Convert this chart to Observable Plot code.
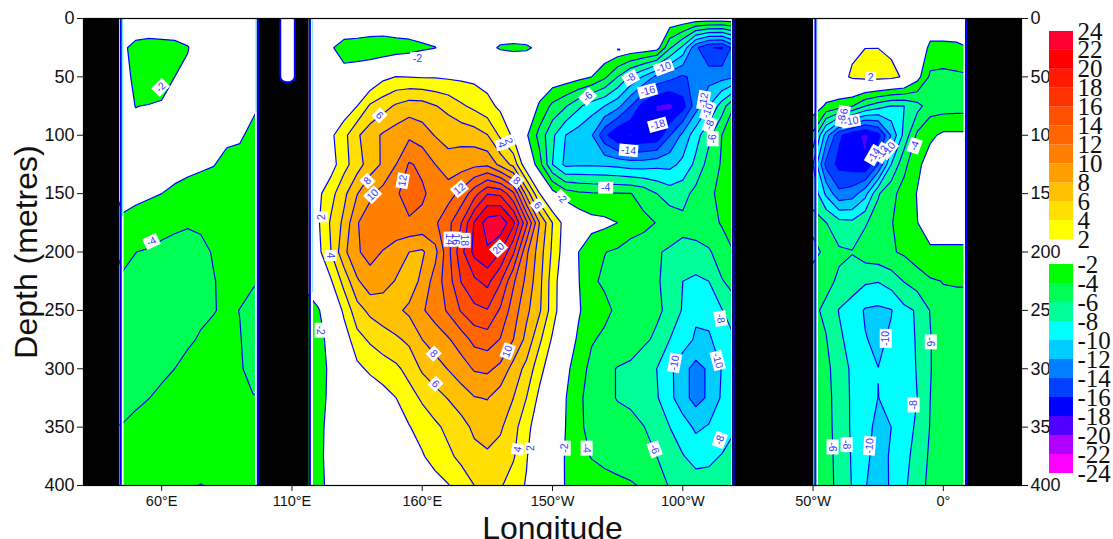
<!DOCTYPE html>
<html>
<head>
<meta charset="utf-8">
<script src="https://cdn.jsdelivr.net/npm/d3@7"></script>
<script src="https://cdn.jsdelivr.net/npm/@observablehq/plot@0.6"></script>
<style>
html,body{margin:0;padding:0;background:#fff}
#wrap{position:relative;width:1113px;height:539px;overflow:hidden}
svg{display:block}
</style>
</head>
<body>
<div id="wrap"></div>
<script>
// Depth levels (metres)
const depths = [0,25,50,75,100,125,150,175,200,225,250,275,300,325,350,375,400];

// Indian basin: one depth profile per longitude, 45E to 95E every 5 degrees
const indian45 = [-.5,-1.7,-1.5,-1.6,-1.7,-1.8,-1.9,-2.05,-3.4,-4.3,-4.5,-4.5,-4.4,-4.2,-3.97,-3.3,-3];
const indian50 = [-.5,-2.5,-2.3,-2.02,-1.7,-1.8,-1.9,-2.15,-3.98,-4.4,-4.6,-4.6,-4.4,-4.15,-3.8,-3.2,-2.9];
const indian55 = [-.5,-2.7,-2.9,-1.95,-1.5,-1.7,-1.85,-2.6,-4.2,-4.6,-4.8,-4.7,-4.4,-4.02,-3.5,-3,-2.7];
const indian60 = [-.5,-2.6,-2.8,-1.8,-1.5,-1.6,-2,-3.4,-4.4,-4.8,-4.9,-4.6,-4.2,-3.8,-3.3,-2.8,-2.5];
const indian65 = [-.5,-2.5,-2,-1.5,-1.3,-1.6,-2.2,-3.7,-4.5,-4.8,-4.7,-4.4,-4,-3.5,-3,-2.6,-2.3];
const indian70 = [-.5,-2.1,-1.6,-1.3,-1.3,-1.7,-2.4,-3.9,-4.4,-4.6,-4.4,-4.15,-3.7,-3.2,-2.8,-2.4,-2.1];
const indian75 = [-.5,-1,-1,-1.1,-1.2,-1.8,-2.6,-3.8,-4.3,-4.4,-4.2,-3.9,-3.5,-3.1,-2.7,-2.3,-1.98];
const indian80 = [-.5,-.8,-.8,-1,-1.3,-1.95,-2.7,-3.4,-3.9,-4.05,-4.05,-3.7,-3.3,-2.9,-2.6,-2.3,-2.1];
const indian85 = [-.5,-.8,-.8,-1.1,-1.7,-2.4,-2.9,-3.2,-3.5,-3.7,-3.8,-3.6,-3.4,-3,-2.7,-2.4,-2.2];
const indian90 = [-.5,-.8,-.9,-1.3,-1.8,-2.5,-3,-3.2,-3.4,-3.7,-4.02,-3.95,-3.9,-3.6,-3.1,-2.7,-2.4];
const indian95 = [-.5,-.8,-1,-1.7,-2.4,-3,-3.2,-3.3,-3.5,-3.9,-4.3,-4.4,-4.3,-3.95,-3.4,-2.9,-2.6];
const indianProfiles = [indian45,indian50,indian55,indian60,indian65,indian70,indian75,indian80,indian85,indian90,indian95];

// Pacific basin: one row per depth, 115E to 280E every 5 degrees
const pac0 = [-.2,-.2,-.2,0,.1,.3,.4,.4,.2,0,-.2,-.2,0,0,-.2,-.2,-.2,-.2,-.1,0,0,0,0,0,0,0,-.1,-.2,-.3,-.4,-.6,-.6,-.6,-.6];
const pac25 = [-.2,-.5,-1.8,-2.8,-3,-3.4,-3.6,-3.2,-2.9,-2.4,-2.05,-1.2,-.3,-.6,-1.5,-2.2,-2.3,-2.2,-1.7,-.6,-.1,-.1,-.1,-.1,-.2,-.4,-.6,-1,-5.7,-8.5,-13.6,-15.9,-16.2,-13];
const pac50 = [-.2,-.2,-.3,-1.3,-.9,0,1.5,2.05,1.95,1.85,1.85,1.7,1.6,1.5,1.2,.6,0,-.3,-.3,-.5,-.8,-1.3,-2,-3.6,-6,-8.4,-10.3,-12.6,-13.4,-14.3,-13.4,-12.9,-12.7,-12.1];
const pac75 = [-.2,-.2,.1,.6,2,4.3,5.2,6.3,7,6.9,6.1,5.4,4.3,3.5,2.6,1.6,.6,0,-2.3,-4.5,-5.8,-7.6,-9.1,-10,-11.4,-14,-17,-18.1,-18.6,-16.8,-12.9,-10,-7,-3.8];
const pac100 = [0,.3,1.6,3.4,5.7,7.1,8.3,9,9.6,8.9,7.9,7.4,7.3,7,6.1,3.6,1.6,-1.7,-4.7,-7.6,-10,-11,-11.8,-15.5,-17.8,-18.2,-17.8,-17.6,-14.1,-11.5,-8.8,-6.5,-4,-3.5];
const pac125 = [.5,1,1.1,3.3,5.1,7,8.3,10,12.2,11.6,10,8.7,9.1,9.5,9.6,7.4,5.4,.3,-3.2,-8,-10.5,-10.3,-10.3,-10.4,-10.6,-11,-11,-10.6,-10.6,-9.5,-7.5,-5.2,-3.8,-3.4];
const pac150 = [.8,1.5,3.3,5.5,7.9,9.7,10.7,11.8,12.7,12.3,11.3,11.2,12.6,15.2,17.9,17.6,14.4,7.3,2.1,-1.2,-3,-3.6,-3.8,-3.9,-3.9,-3.95,-4.6,-6,-7,-6.7,-5.4,-4.6,-3.2,-3];
const pac175 = [1,1.7,4.3,6.5,9.9,10.8,11.3,12,11.8,11.5,11.7,13.4,16,20.2,23,23.5,20.5,14.5,8,4,1,-.5,-1.3,-1.5,-2,-3.4,-3.6,-4.05,-4.6,-5.5,-5.1,-4.8,-3.8,-3.4];
const pac200 = [.5,1.4,4,7.5,9.8,10.6,9.9,8.7,8,7.7,9.4,13.4,17.4,20.6,21.7,20,16.3,10.4,7,3.6,.8,-2,-3.2,-3.95,-4.3,-4.5,-4.8,-5.8,-6.3,-6.5,-6.6,-6.2,-5.2,-3.9];
const pac225 = [-1.7,-.5,1.8,4.7,7.7,9.3,8.6,7.9,6.9,8.5,10.9,13.1,16.1,17.6,18.6,16.2,12.3,9.5,6.6,3,.2,-1.9,-3.7,-4.3,-4.6,-5,-5.3,-5.8,-6.6,-8,-8.4,-8,-6.1,-5.4];
const pac250 = [-2.6,-2.2,-.6,2.5,5.2,6.5,7.1,7.6,8.4,9.8,10.8,12.3,14.2,15.5,15.9,13.7,11,8.5,6.3,3,0,-1.8,-3,-3.5,-4.4,-4.8,-5.1,-5.7,-6.4,-8.2,-9.6,-9.3,-8.1,-6.6];
const pac275 = [-3,-2.6,-1.4,.8,3.3,4.3,5.1,5.7,6.4,8,9,9.8,11,12.6,13,11.9,10,7.4,4.4,1.7,-.8,-2.3,-3.8,-4.4,-4.7,-5,-5.7,-6.3,-8,-9,-10.3,-10.3,-9,-8.1];
const pac300 = [-3,-2.8,-1.6,.3,1.5,2.4,3,3.6,4.7,6.3,7.1,8.1,9.1,10.2,10.4,9.5,7.2,5.4,2.7,.6,-1.5,-3,-4.6,-5.5,-6.1,-6.4,-7,-8,-9.5,-11.3,-12.7,-11.7,-9.9,-8.9];
const pac325 = [-3,-2.8,-1.5,-.8,0,.5,1.2,2,3.2,4.3,5.3,6.1,7,7.9,8.1,7,6,4,1.5,-.3,-1.9,-3.7,-4.6,-5.5,-6.1,-6.2,-7,-7.8,-9.4,-11.3,-12.7,-11.7,-9.7,-8.6];
const pac350 = [-3,-2.6,-1.3,-.8,-.5,-.3,0,.8,1.9,2.8,3.6,4.5,5.3,6.4,6.6,6.3,4.7,2.7,.6,-.5,-2,-3.6,-4.6,-5,-5.3,-5.7,-5.95,-6.8,-8,-9,-10.4,-9.8,-9.1,-8.2];
const pac375 = [-3,-2.5,-1.3,-1,-.6,-.3,-.2,0,.5,1.8,2.9,3.6,4.5,5.4,5.8,5.2,4.2,2.2,-.2,-1,-2.1,-3.3,-4.1,-4.5,-4.7,-5,-5.3,-6,-6.8,-7.9,-8.6,-8.4,-7.9,-7];
const pac400 = [-3,-2.5,-1.5,-1,-.6,0,0,0,0,.3,1.1,1.9,2.9,4,4.7,4.2,3.1,1.8,0,-.8,-2.1,-2.7,-3,-3.3,-3.6,-3.8,-4.2,-5.4,-6.1,-6.7,-7.2,-7.3,-7,-6.5];
const pacificRows = [pac0,pac25,pac50,pac75,pac100,pac125,pac150,pac175,pac200,pac225,pac250,pac275,pac300,pac325,pac350,pac375,pac400];

// Atlantic basin: one row per depth, 310E to 370E every 5 degrees
const atl0 = [-.2,0,.2,.4,.5,.5,.4,.3,.1,-.3,-.3,-.3,-.3];
const atl25 = [0,.2,.5,1.6,1.98,1.98,1.6,.8,-.2,-2.5,-2.5,-2.4,-2];
const atl50 = [-.5,.3,1.2,2.3,2.7,2.8,2.6,1.7,-1.2,-4.4,-4.6,-4.4,-4.2];
const atl75 = [-.8,-2.3,-3,-3.9,-6,-7.2,-8.1,-8,-6.7,-4.9,-4.9,-4.8,-4.8];
const atl100 = [-4.5,-11,-15.6,-17.3,-18.4,-16.6,-11.8,-7.3,-3.6,-2.4,-1.6,-1.6,-1.6];
const atl125 = [-8,-14.6,-16.6,-17,-17.8,-14,-8,-4.5,-2.5,-1,-.5,-.5,-.5];
const atl150 = [-6.5,-10.4,-13.5,-13,-10.7,-6.2,-4.5,-3.3,-1.9,-.5,-.3,-.3,-.3];
const atl175 = [-5.6,-5.95,-7.3,-7.5,-6.2,-5.1,-4.1,-3.2,-2.05,-.8,-.5,-.5,-.5];
const atl200 = [-6.4,-5.7,-5.7,-5.9,-5,-4.6,-4.2,-3.7,-2.9,-2.4,-2.5,-2.5,-2.5];
const atl225 = [-5.3,-5.5,-6.3,-7,-7.7,-7.9,-7.1,-5.9,-5,-4.2,-3.95,-3.95,-3.95];
const atl250 = [-5.6,-6.4,-8.1,-8.9,-10.2,-10.4,-10.1,-8.5,-7.8,-5.9,-4.4,-4.2,-4.2];
const atl275 = [-5.3,-5.9,-7.6,-8.8,-9.9,-10.4,-9.7,-8.9,-7.8,-6.1,-4.7,-4.4,-4.3];
const atl300 = [-5,-5.6,-6.8,-8.4,-9.2,-9.98,-9.5,-8.8,-7.9,-6.1,-4.8,-4.5,-4.4];
const atl325 = [-5,-5.4,-6.8,-8.3,-9.2,-10.02,-9.6,-8.9,-8,-6,-4.7,-4.5,-4.4];
const atl350 = [-5,-5.4,-6.7,-8.3,-9.4,-10.5,-10,-8.8,-7.7,-5.9,-4.7,-4.4,-4.3];
const atl375 = [-5,-5.3,-6.6,-8.2,-9.6,-10.7,-9.8,-8.4,-7.5,-5.6,-4.6,-4.4,-4.3];
const atl400 = [-5,-5.3,-6.5,-8.1,-9.9,-10.8,-9.8,-8.3,-7,-5.4,-4.5,-4.3,-4.2];
const atlanticRows = [atl0,atl25,atl50,atl75,atl100,atl125,atl150,atl175,atl200,atl225,atl250,atl275,atl300,atl325,atl350,atl375,atl400];

// Contour levels and the colour of the band above each level
const levels = [-24,-22,-20,-18,-16,-14,-12,-10,-8,-6,-4,-2,2,4,6,8,10,12,14,16,18,20,22];
const levelColours = ["#ff00ff","#b000ff","#5000ff","#0000ff","#0040ff","#0080ff","#00ccff","#00ffff","#00ff99","#00ff55","#00ff00","#ffffff","#ffff00","#ffe000","#ffc000","#ffa000","#ff8000","#ff6600","#ff5000","#ff3300","#ff1a00","#ff0000","#ff0033"];

// Land (longitude ranges) and coast lines
const landWest = [30,97.2,279.1,369];
const landEast = [43.8,116.6,310.2,390];
const coastLons = [44.3,96.9,116.9,279.5,310.9,368.7];
const coastWhite = [44.9,96.3,117.6,279,311.4,368.2];
const mintLons = [45,96.2,117.8,311.5];
const mintDepth = [170,80,235,78];
const fingerWest = [105.7];
const fingerEast = [111.3];
const fingerDepth = [55];
const specLon = [235.6];
const specDepth = [27];

// Tick labels
const depthTicks = [0,50,100,150,200,250,300,350,400];
const lonTicks = [60,110,160,210,260,310,360];
const lonTickLabels = ["60°E","110°E","160°E","150°W","100°W","50°W","0°"];

// Contour labels
const labelLon = [59.6,56.1,158.2,121,121.4,124.8,143.6,139,141,152.5,174.3,193.2,190.5,196.2,204.3,189.3,170.5,172.8,176.3,164.4,165.1,192.8,196.6,201.6,214.7,213.5,230.4,223.5,240,252.7,246.5,250.4,239.2,268,269.6,270.3,271.5,223.1,249.2,274.5,256.9,273.4,274.2,332.1,349,321.8,321,324.5,333.3,336.4,339,337.9,355.2,348.6,317.5,322.9,331.7];
const labelDepth = [59,191,34,267,170,203,83,139,151,139,146,105,108,139,160,197,189,189,190,287,313,285,369,368,368,154,145,67,51,42,62,91,113,70,79,91,103,368,369,257,295,293,361,51,109,81,86.5,88,117,115,112,274,277,331,367,365,366];
const labelText = ["-2","-4","-2","-2","2","4","6","8","10","12","12","2","4","8","6","20","14","16","18","8","6","10","4","2","-2","-2","-4","-6","-8","-10","-16","-18","-14","-12","-10","-8","-6","-4","-6","-8","-10","-10","-8","2","-4","-6","-8","-10","-14","-12","-10","-10","-6","-8","-6","-8","-10"];
const labelAngle = [-45,-25,0,90,-90,90,45,-45,-45,-80,-40,70,75,40,50,-45,90,90,90,45,45,-70,-80,-90,-90,45,0,-45,-30,-20,-15,-15,5,-80,-70,-70,-90,90,70,80,-80,75,-70,0,-70,-80,-80,-10,-60,-60,-50,-90,90,-90,90,90,-85];

// Colour bar
const barLow = [2,4,6,8,10,12,14,16,18,20,22,-4,-6,-8,-10,-12,-14,-16,-18,-20,-22,-24];
const barHigh = [4,6,8,10,12,14,16,18,20,22,24,-2,-4,-6,-8,-10,-12,-14,-16,-18,-20,-22];
const barColours = ["#ffff00","#ffe000","#ffc000","#ffa000","#ff8000","#ff6600","#ff5000","#ff3300","#ff1a00","#ff0000","#ff0033","#00ff00","#00ff55","#00ff99","#00ffff","#00ccff","#0080ff","#0040ff","#0000ff","#5000ff","#b000ff","#ff00ff"];
const barLabels = [24,22,20,18,16,14,12,10,8,6,4,2,-2,-4,-6,-8,-10,-12,-14,-16,-18,-20,-22,-24];

const blue = "#0000ff";
const indianRows = d3.transpose(indianProfiles);

function basin(rows, lon0, lon1) {
  return Plot.contour(rows.flat(), {
    x1: lon0 - 2.5, x2: lon1 + 2.5,
    y1: depths[0] - 12.5, y2: depths[depths.length - 1] + 12.5,
    width: rows[0].length, height: rows.length,
    fill: Plot.identity, thresholds: levels,
    stroke: blue, strokeWidth: 1.2, clip: true
  });
}

// White rectangular backing for the contour labels, sized by label length
function labelBack(chars, w) {
  const idx = d3.range(labelText.length).filter(i => labelText[i].length === chars);
  return Plot.dot(idx, {
    x: i => labelLon[i], y: i => labelDepth[i], rotate: i => labelAngle[i],
    r: 5, fill: "white", stroke: "none",
    symbol: {draw(ctx) { ctx.rect(-w / 2, -6, w, 12); ctx.closePath(); }}
  });
}

const chart = Plot.plot({
  width: 1113, height: 539,
  marginLeft: 83, marginRight: 92, marginTop: 18, marginBottom: 54,
  style: {fontFamily: "Liberation Sans", background: "white", color: "#111"},
  x: {domain: [30,390]},
  y: {domain: [0,400], reverse: true},
  color: {type: "threshold", domain: levels, range: ["#ffffff", ...levelColours]},
  marks: [
    basin(indianRows, 45, 95),
    basin(pacificRows, 115, 280),
    basin(atlanticRows, 310, 370),
    Plot.ruleX(coastWhite, {stroke: "white", strokeWidth: 2.5}),
    Plot.ruleX(mintLons, {y1: 0, y2: (d,i) => mintDepth[i], stroke: "#66eebb", strokeWidth: 1}),
    Plot.rect(landWest, {x1: d => d, x2: (d,i) => landEast[i], y1: 0, y2: 400, fill: "black"}),
    Plot.ruleX(coastLons, {stroke: blue, strokeWidth: 2}),
    Plot.rect(fingerWest, {x1: d => d, x2: (d,i) => fingerEast[i], y1: -6, y2: (d,i) => fingerDepth[i], fill: "white", stroke: blue, strokeWidth: 2, rx: 6, clip: true}),
    Plot.rect(specLon, {x1: d => d - .6, x2: d => d + .6, y1: (d,i) => specDepth[i] - .8, y2: (d,i) => specDepth[i] + .8, fill: blue}),
    labelBack(1, 11), labelBack(2, 15), labelBack(3, 19),
    Plot.text(labelText, {
      x: (d,i) => labelLon[i], y: (d,i) => labelDepth[i], text: d => d,
      rotate: (d,i) => labelAngle[i],
      fill: "#3a3aff", fontSize: 10.5
    }),
    Plot.frame({stroke: "black", strokeWidth: 1.2}),
    Plot.axisY(depthTicks, {anchor: "left", tickSize: 6, tickPadding: 3, fontSize: 18, label: null}),
    Plot.axisY(depthTicks, {anchor: "right", tickSize: 6, tickPadding: 3, fontSize: 18, label: null}),
    Plot.axisX(lonTicks, {anchor: "bottom", tickSize: 6, tickPadding: 4, fontSize: 14.5, label: null,
      tickFormat: d => lonTickLabels[lonTicks.indexOf(d)]}),
    Plot.text(["Depth (metres)"], {frameAnchor: "left", dx: -57, rotate: -90, fontSize: 32, textAnchor: "middle", lineAnchor: "middle", fill: "#111"}),
    Plot.text(["Longitude"], {frameAnchor: "bottom", dy: 43, fontSize: 32, textAnchor: "middle", lineAnchor: "middle", fill: "#111"})
  ]
});

const colourBar = Plot.plot({
  width: 64, height: 539,
  marginLeft: 0, marginRight: 0, marginTop: 0, marginBottom: 0,
  style: {background: "transparent", fontFamily: "Liberation Serif", overflow: "visible"},
  x: {domain: [0,1], range: [0,24], axis: null},
  y: {type: "linear", domain: [24,2,-2,-24], range: [31,239,264,473], axis: null},
  marks: [
    Plot.rect(barLow, {x1: 0, x2: 1, y1: d => d, y2: (d,i) => barHigh[i], fill: (d,i) => barColours[i]}),
    Plot.text(barLabels, {x: 1, y: d => d, dx: 4, text: d => String(d), textAnchor: "start", fontSize: 25, fill: "#111"})
  ]
});
colourBar.style.position = "absolute";
colourBar.style.left = "1049px";
colourBar.style.top = "0";

const wrap = document.getElementById("wrap");
wrap.appendChild(chart);
wrap.appendChild(colourBar);
</script>
</body>
</html>
